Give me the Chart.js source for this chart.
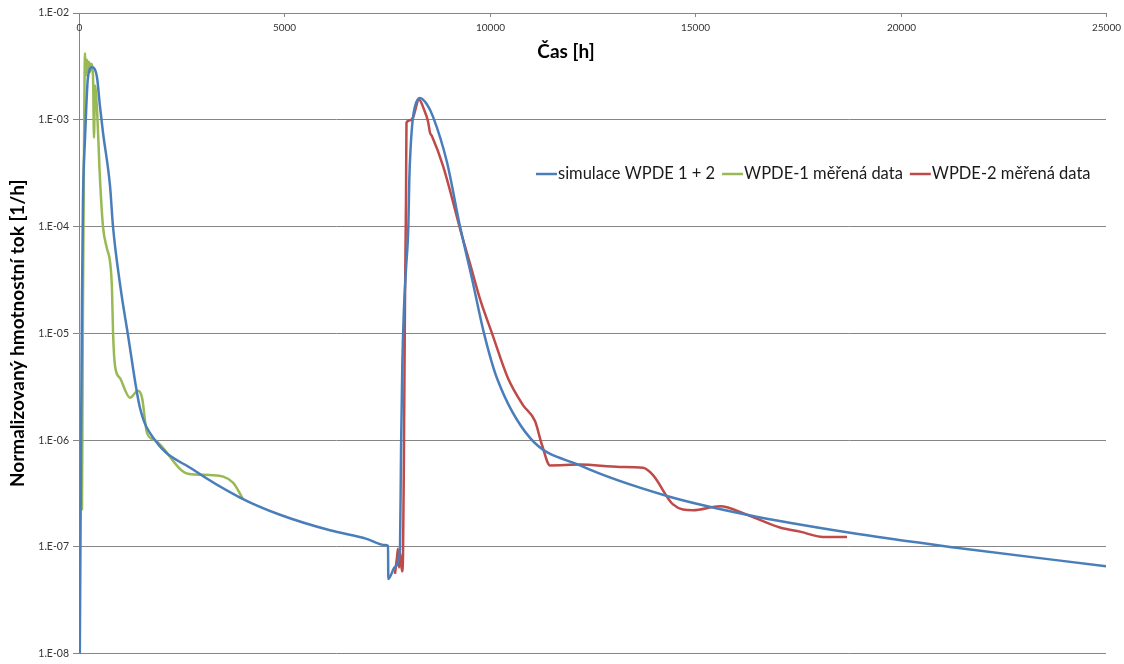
<!DOCTYPE html>
<html>
<head>
<meta charset="utf-8">
<script src="https://cdn.jsdelivr.net/npm/chart.js@4.4.0/dist/chart.umd.min.js"></script>
<style>
  body { margin: 0; background: #fff; }
  #wrap { width: 1124px; height: 664px; }
</style>
</head>
<body>
<div id="wrap"><canvas id="fluxChart"></canvas></div>
<script>
// Time axis ticks [h] and flux decades [1/h]
const xTicks = [0, 5000, 10000, 15000, 20000, 25000];
const yTicks = [1e-8, 1e-7, 1e-6, 1e-5, 1e-4, 1e-3, 1e-2];

// Simulation WPDE 1 + 2
const simHours = [20, 49, 73, 97, 146, 219, 316, 438, 511, 584, 755, 828, 998, 1193, 1485, 1850, 2775, 3920, 4893, 6110,
  7000, 7450, 7522, 7530, 7692, 7814, 7840, 7870, 7905, 7960, 8017, 8041, 8075, 8123, 8179, 8301, 8471, 8617, 8958, 9275, 9567, 9859,
  10175, 10979, 12196, 14313, 16261, 18695, 21203, 25000];
const simFlux = [1.0e-8, 8.5e-7, 2.1e-5, 1.8e-4, 6.6e-4, 2.5e-3, 3.1e-3, 2.5e-3, 1.33e-3, 7.6e-4, 2.4e-4, 1.0e-4, 2.9e-5, 9.6e-6, 2.0e-6, 1.0e-6, 5.3e-7, 2.9e-7, 2.0e-7, 1.43e-7,
  1.19e-7, 1.04e-7, 1.02e-7, 5.0e-8, 6.5e-8, 9.5e-8, 8.5e-7, 5.0e-6, 1.5e-5, 4.0e-5, 1.0e-4, 2.8e-4, 5.7e-4, 1.0e-3, 1.34e-3, 1.6e-3, 1.39e-3, 1.07e-3, 4.0e-4, 1.0e-4, 3.25e-5, 1.0e-5,
  3.8e-6, 1.05e-6, 5.8e-7, 3.0e-7, 2.0e-7, 1.37e-7, 1.0e-7, 6.6e-8];

// WPDE-1 measured
const wpde1Hours = [73, 97, 122, 146, 170, 195, 219, 243, 268, 292, 341, 365, 389, 438, 511, 584, 682, 755, 803, 828,
  876, 998, 1241, 1436, 1534, 1655, 1850, 2653, 3262, 3749, 3992];
const wpde1Flux = [2.2e-7, 2.1e-5, 5.3e-4, 4.2e-3, 2.6e-3, 3.65e-3, 2.8e-3, 3.5e-3, 2.8e-3, 3.35e-3, 2.6e-3, 6.8e-4, 2.1e-3, 1.25e-3, 2.8e-4, 1.0e-4, 6.2e-5, 4.7e-5, 2.6e-5, 1.04e-5,
  5.0e-6, 3.8e-6, 2.5e-6, 2.9e-6, 2.5e-6, 1.17e-6, 1.0e-6, 4.85e-7, 4.7e-7, 4.0e-7, 2.8e-7];

// WPDE-2 measured
const wpde2Hours = [7692, 7741, 7765, 7790, 7814, 7863, 7887, 7911, 7936, 7960, 7972, 8058, 8131, 8277, 8398, 8495, 8544, 8593, 8861, 9323,
  9518, 9761, 10054, 10443, 10808, 11100, 11271, 11466, 12196, 13170, 13729, 13973, 14460, 14947, 15604, 16261, 17064, 17551, 18111, 18695];
const wpde2Flux = [5.6e-8, 8.0e-8, 9.6e-8, 6.4e-8, 8.9e-8, 5.9e-8, 8.0e-8, 8.5e-7, 2.1e-5, 1.8e-4, 9.4e-4, 9.9e-4, 1.05e-3, 1.55e-3, 1.25e-3, 9.7e-4, 7.6e-4, 7.0e-4, 3.7e-4, 8.2e-5,
  4.5e-5, 2.1e-5, 1.0e-5, 3.8e-6, 2.13e-6, 1.51e-6, 9.0e-7, 5.8e-7, 5.9e-7, 5.6e-7, 5.5e-7, 4.7e-7, 2.5e-7, 2.2e-7, 2.4e-7, 2.0e-7, 1.52e-7, 1.39e-7, 1.24e-7, 1.24e-7];

const FONT = "Lato, 'Open Sans', sans-serif";

function toPoints(xs, ys) {
  return xs.map((x, i) => ({ x: x, y: ys[i] }));
}

// 1e-3 -> "1.E-03"
function expLabel(v) {
  const e = Math.round(Math.log10(v));
  return '1.E' + (e < 0 ? '-' : '+') + String(Math.abs(e)).padStart(2, '0');
}

// Time labels, tick marks and title sit just under the top axis line
const topAxisLabels = {
  id: 'topAxisLabels',
  afterDraw(chart) {
    const ctx = chart.ctx;
    const xs = chart.scales.x;
    const top = chart.chartArea.top;
    ctx.save();
    ctx.strokeStyle = '#868686';
    ctx.lineWidth = 1;
    ctx.fillStyle = '#333';
    ctx.font = '10px ' + FONT;
    ctx.textAlign = 'center';
    ctx.textBaseline = 'middle';
    xTicks.forEach(t => {
      const px = Math.round(xs.getPixelForValue(t)) + 0.5;
      ctx.beginPath();
      ctx.moveTo(px, top);
      ctx.lineTo(px, top + 4);
      ctx.stroke();
      ctx.fillText(String(t), px, top + 15);
    });
    ctx.font = 'bold 19px ' + FONT;
    ctx.fillStyle = '#000';
    ctx.fillText('Čas [h]', 566, 52);
    ctx.restore();
  }
};

// Legend drawn inside the plot area
const innerLegend = {
  id: 'innerLegend',
  afterDraw(chart) {
    const ctx = chart.ctx;
    let x = 536;
    const y = 174;
    ctx.save();
    ctx.font = '16.5px ' + FONT;
    ctx.textBaseline = 'middle';
    ctx.textAlign = 'left';
    chart.data.datasets.forEach(ds => {
      ctx.strokeStyle = ds.borderColor;
      ctx.lineWidth = 2.5;
      ctx.beginPath();
      ctx.moveTo(x, y);
      ctx.lineTo(x + 21, y);
      ctx.stroke();
      x += 22;
      ctx.fillStyle = '#1a1a1a';
      ctx.fillText(ds.label, x, y);
      x += ctx.measureText(ds.label).width + 7;
    });
    ctx.restore();
  }
};

const ctx = document.getElementById('fluxChart').getContext('2d');
new Chart(ctx, {
  type: 'line',
  data: {
    datasets: [
      { label: 'simulace WPDE 1 + 2', data: toPoints(simHours, simFlux), borderColor: '#4A7EBB' },
      { label: 'WPDE-1 měřená data', data: toPoints(wpde1Hours, wpde1Flux), borderColor: '#98B954' },
      { label: 'WPDE-2 měřená data', data: toPoints(wpde2Hours, wpde2Flux), borderColor: '#BE4B48' }
    ]
  },
  options: {
    responsive: true,
    maintainAspectRatio: false,
    animation: false,
    layout: { padding: { top: 13, right: 18, bottom: 7, left: 0 } },
    elements: {
      point: { radius: 0 },
      line: { borderWidth: 2.5, fill: false, cubicInterpolationMode: 'monotone' }
    },
    plugins: {
      legend: { display: false },
      tooltip: { enabled: false }
    },
    scales: {
      x: {
        type: 'linear',
        position: 'top',
        min: 0,
        max: 25000,
        ticks: { display: false },
        grid: { display: true, drawOnChartArea: false, drawTicks: false },
        border: { color: '#868686' },
        afterFit(scale) { scale.height = 0; }
      },
      y: {
        type: 'logarithmic',
        min: 1e-8,
        max: 1e-2,
        afterBuildTicks(scale) {
          scale.ticks = yTicks.map(v => ({ value: v }));
        },
        afterFit(scale) { scale.width = 79; },
        ticks: {
          font: { family: FONT, size: 10.5 },
          color: '#333',
          padding: 4,
          callback: v => expLabel(v)
        },
        grid: { color: '#868686', tickLength: 6 },
        border: { color: '#868686' },
        title: {
          display: true,
          text: 'Normalizovaný hmotnostní tok [1/h]',
          font: { family: FONT, size: 19, weight: 'bold' },
          color: '#000',
          padding: { top: 6, bottom: 0 }
        }
      }
    }
  },
  plugins: [topAxisLabels, innerLegend]
});
</script>
</body>
</html>
